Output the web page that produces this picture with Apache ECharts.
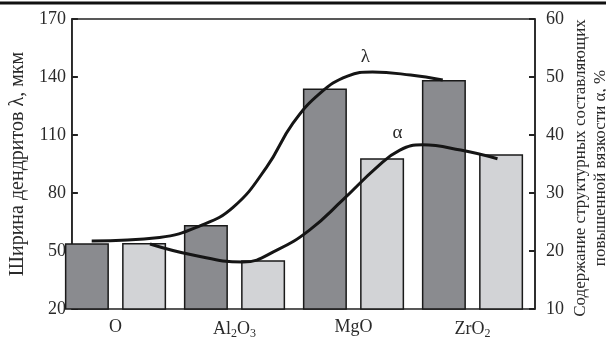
<!DOCTYPE html>
<html>
<head>
<meta charset="utf-8">
<script src="https://cdn.jsdelivr.net/npm/echarts@6/dist/echarts.min.js"></script>
<style>
  html, body { margin: 0; padding: 0; background: #fff; }
  #chart { width: 606px; height: 340px; }
</style>
</head>
<body>
<div id="chart"></div>
<script>
// данные
const categories = ['O', 'Al{s|2}O{s|3}', 'MgO', 'ZrO{s|2}'];
const lambdaBars = [54, 63.5, 134, 138.5];   // ширина дендритов, мкм
const alphaBars = [21.4, 18.4, 36, 36.7];     // содержание составляющих, %

// кривые (x в единицах категорий, 0 = O ... 3 = ZrO2)
const lambdaCurveX = [-0.2, 0.37, 0.71, 0.99, 1.27, 1.49, 1.72, 1.95, 2.16, 2.48, 2.75];
const lambdaCurveY = [55.2, 57, 63, 72.7, 93.4, 116, 131.7, 140.5, 142.6, 141, 138.4];
const alphaCurveX = [0.29, 0.65, 1.07, 1.36, 1.63, 1.91, 2.2, 2.39, 2.58, 2.9, 3.21];
const alphaCurveY = [21.2, 19.3, 18.1, 20.2, 23.6, 28.8, 34.5, 37.4, 38.3, 37.4, 35.9];

const leftTicks = { min: 20, max: 170, interval: 30 };
const rightTicks = { min: 10, max: 60, interval: 10 };

const font = 'Liberation Serif';
const textColor = '#2a2a2a';

const chart = echarts.init(document.getElementById('chart'));

const option = {
  animation: false,
  textStyle: { fontFamily: font, color: textColor },
  graphic: [
    {
      type: 'line',
      shape: { x1: 0, y1: 3, x2: 606, y2: 3 },
      style: { stroke: '#111', lineWidth: 3 }
    },
    // подпись правой оси (в ECharts 6 имя оси прижимается внутрь контейнера)
    {
      type: 'text',
      x: 591,
      y: 168,
      rotation: Math.PI / 2,
      style: {
        text: 'Содержание структурных составляющих\nповышенной вязкости α, %',
        font: '17px "Liberation Serif"',
        lineHeight: 20,
        fill: textColor,
        align: 'center',
        verticalAlign: 'middle'
      }
    }
  ],
  grid: [
    { left: 68, top: 19, width: 467, height: 290, show: true, borderColor: '#222', borderWidth: 1.5 },
    { left: 56, top: 19, width: 476, height: 290 }
  ],
  xAxis: [
    { type: 'value', gridIndex: 0, show: false, min: 0, max: 1 },
    {
      type: 'category',
      gridIndex: 1,
      data: categories,
      axisLine: { show: false },
      axisTick: { show: false },
      axisLabel: {
        interval: 0,
        fontFamily: font,
        fontSize: 18,
        color: textColor,
        margin: 9,
        rich: { s: { fontFamily: font, fontSize: 12, color: textColor, padding: [10, 0, 0, 0] } }
      }
    },
    { type: 'value', gridIndex: 1, show: false, min: -0.5, max: 3.5 }
  ],
  yAxis: [
    {
      type: 'value',
      gridIndex: 0,
      min: leftTicks.min,
      max: leftTicks.max,
      interval: leftTicks.interval,
      name: 'Ширина дендритов λ, мкм',
      nameLocation: 'middle',
      nameGap: 42,
      nameTextStyle: { fontFamily: font, fontSize: 20, color: textColor },
      axisLine: { show: true, lineStyle: { color: '#222', width: 1.5 } },
      axisTick: { show: true, inside: true, length: 6, lineStyle: { color: '#222', width: 2 } },
      axisLabel: { fontFamily: font, fontSize: 18, color: textColor, margin: 6 },
      splitLine: { show: false }
    },
    {
      type: 'value',
      gridIndex: 0,
      position: 'right',
      min: rightTicks.min,
      max: rightTicks.max,
      interval: rightTicks.interval,
      axisLine: { show: true, lineStyle: { color: '#222', width: 1.5 } },
      axisTick: { show: true, inside: true, length: 6, lineStyle: { color: '#222', width: 2 } },
      axisLabel: { fontFamily: font, fontSize: 18, color: textColor, margin: 11 },
      splitLine: { show: false }
    },
    { type: 'value', gridIndex: 1, show: false, min: leftTicks.min, max: leftTicks.max },
    { type: 'value', gridIndex: 1, show: false, min: rightTicks.min, max: rightTicks.max }
  ],
  series: [
    {
      name: 'λ',
      type: 'bar',
      xAxisIndex: 1,
      yAxisIndex: 2,
      data: lambdaBars,
      barWidth: 44,
      barGap: '30%',
      itemStyle: { color: '#8a8b8f', borderColor: '#1a1a1a', borderWidth: 1.5 }
    },
    {
      name: 'α',
      type: 'bar',
      xAxisIndex: 1,
      yAxisIndex: 3,
      data: alphaBars,
      barWidth: 44,
      barGap: '30%',
      itemStyle: { color: '#d2d3d6', borderColor: '#1a1a1a', borderWidth: 1.5 }
    },
    {
      name: 'λ curve',
      type: 'line',
      xAxisIndex: 2,
      yAxisIndex: 2,
      smooth: 0.45,
      symbol: 'none',
      z: 5,
      lineStyle: { color: '#151515', width: 3 },
      data: lambdaCurveX.map((x, i) => [x, lambdaCurveY[i]]),
      markPoint: {
        symbol: 'circle',
        symbolSize: 0,
        label: { show: true, formatter: 'λ', fontFamily: font, fontSize: 19, color: textColor },
        data: [{ coord: [2.1, 150.5] }]
      }
    },
    {
      name: 'α curve',
      type: 'line',
      xAxisIndex: 2,
      yAxisIndex: 3,
      smooth: 0.45,
      symbol: 'none',
      z: 5,
      lineStyle: { color: '#151515', width: 3 },
      data: alphaCurveX.map((x, i) => [x, alphaCurveY[i]]),
      markPoint: {
        symbol: 'circle',
        symbolSize: 0,
        label: { show: true, formatter: 'α', fontFamily: font, fontSize: 19, color: textColor },
        data: [{ coord: [2.37, 40.3] }]
      }
    }
  ]
};

chart.setOption(option);
</script>
</body>
</html>
